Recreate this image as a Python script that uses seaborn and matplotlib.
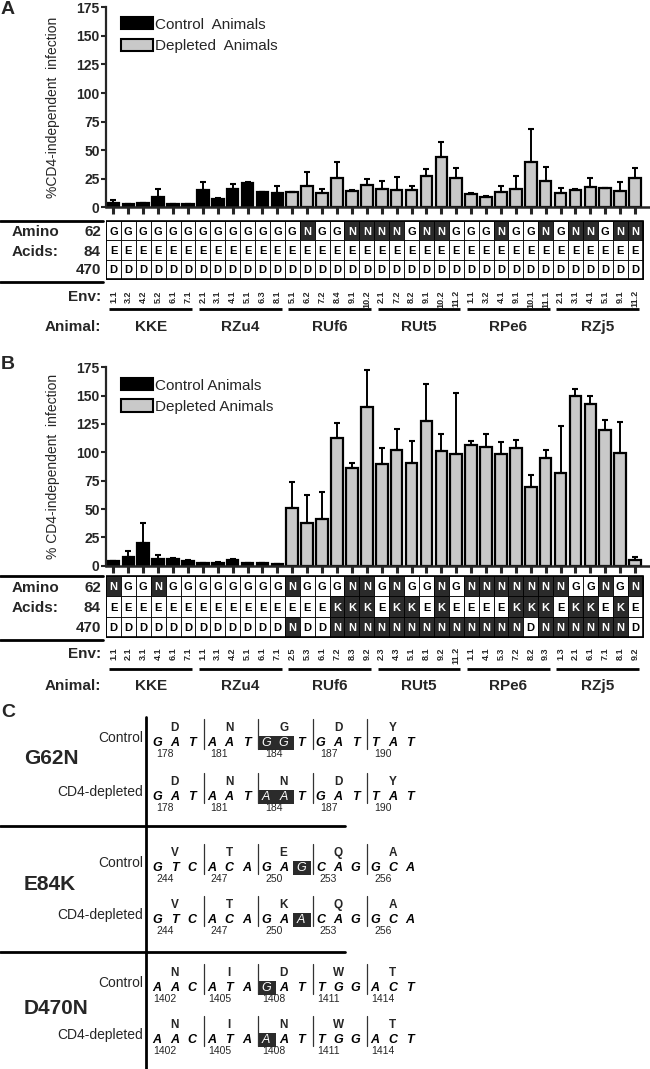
import numpy as np
import pandas as pd
import seaborn as sns
import matplotlib.pyplot as plt
from matplotlib.patches import Patch, Rectangle
from matplotlib.lines import Line2D

W, H = 650, 1069

animals = ['KKE', 'RZu4', 'RUf6', 'RUt5', 'RPe6', 'RZj5']
groups = ['Control'] * 12 + ['Depleted'] * 24
wild_type = ['G', 'E', 'D']

# ---- panel A data ----
env_a = ['1.1', '3.2', '4.2', '5.2', '6.1', '7.1',
         '2.1', '3.1', '4.1', '5.1', '6.3', '8.1',
         '5.1', '6.2', '7.2', '8.4', '9.1', '10.2',
         '2.1', '7.2', '8.2', '9.1', '10.2', '11.2',
         '1.1', '3.2', '4.1', '9.1', '10.1', '11.1',
         '2.1', '3.1', '4.1', '5.1', '9.1', '11.2']
mean_a = [3.5, 3, 3.5, 9.4, 3, 3, 15.3, 7.6, 15.9, 20.9, 13.5, 12.4,
          13.2, 19, 12.4, 25.6, 14.1, 19.1, 16.2, 14.7, 15.3, 27, 44.4, 25.9,
          11.5, 9.4, 13.8, 16.2, 39.4, 23.2, 12.9, 15.3, 17.6, 16.8, 14.1, 25.9]
top_a = [6.5, 3.3, 4, 16, 3.3, 3.3, 21.8, 7.9, 20.3, 21.8, 13.8, 18.2,
         13.5, 30.6, 15.6, 40, 15, 25, 23.2, 26.2, 18.5, 33.8, 57, 34.7,
         12.3, 9.7, 19, 27.4, 68.8, 35.3, 17, 15.9, 25.6, 17.1, 21.8, 34.4]
aa62_a = list('GGGGGG' 'GGGGGG' 'GNGGNN' 'NNGNNG' 'GGNGGN' 'GNNGNN')
aa84_a = list('E' * 36)
aa470_a = list('D' * 36)

# ---- panel B data ----
env_b = ['1.1', '2.1', '3.1', '4.1', '6.1', '7.1',
         '1.1', '3.1', '4.2', '5.1', '6.1', '7.1',
         '2.5', '5.3', '6.1', '7.2', '8.3', '9.2',
         '2.3', '4.3', '5.1', '8.1', '9.2', '11.2',
         '1.1', '4.1', '5.3', '7.2', '8.2', '9.3',
         '1.3', '2.1', '6.1', '7.1', '8.1', '9.2']
mean_b = [4.1, 7.9, 19.6, 6.2, 5.6, 4.4, 2, 2.6, 4.7, 2.3, 2.3, 1.5,
          51.3, 37.8, 41.6, 112.9, 85.9, 139.6, 90, 101.8, 90.6, 127.3, 100.9, 98.2,
          106.2, 104.4, 98.5, 104.1, 69.2, 95, 81.8, 149.6, 142.8, 119.4, 99.4, 5]
top_b = [4.4, 13.2, 37.5, 9.7, 6.5, 4.7, 2.3, 2.9, 5.6, 2.6, 2.6, 1.8,
         73.6, 62.8, 64.8, 126, 90.3, 172.4, 103.5, 120.8, 110.3, 160.1, 116.1, 152.2,
         110.3, 115.8, 108.8, 110.9, 79.8, 102.3, 123.5, 156, 149.3, 128.4, 126.7, 7.3]
aa62_b = list('NGGNGG' 'GGGGGG' 'NGGGNN' 'GNGGNG' 'NNNNNN' 'NGGNGN')
aa84_b = list('EEEEEE' 'EEEEEE' 'EEEKKK' 'EKKEKE' 'EEEKKK' 'EKKEKE')
aa470_b = list('DDDDDD' 'DDDDDD' 'NDDNNN' 'NNNNNN' 'NNNNDN' 'NNNNND')

# ---- panel C data ----
mutations = ['G62N', 'E84K', 'D470N']
ctrl_codons = [['GAT', 'AAT', 'GGT', 'GAT', 'TAT'],
               ['GTC', 'ACA', 'GAG', 'CAG', 'GCA'],
               ['AAC', 'ATA', 'GAT', 'TGG', 'ACT']]
dep_codons = [['GAT', 'AAT', 'AAT', 'GAT', 'TAT'],
              ['GTC', 'ACA', 'GAA', 'CAG', 'GCA'],
              ['AAC', 'ATA', 'AAT', 'TGG', 'ACT']]
ctrl_aa = [['D', 'N', 'G', 'D', 'Y'], ['V', 'T', 'E', 'Q', 'A'], ['N', 'I', 'D', 'W', 'T']]
dep_aa = [['D', 'N', 'N', 'D', 'Y'], ['V', 'T', 'K', 'Q', 'A'], ['N', 'I', 'N', 'W', 'T']]
positions = [[178, 181, 184, 187, 190], [244, 247, 250, 253, 256],
             [1402, 1405, 1408, 1411, 1414]]
changed = [[0, 1], [2], [0]]  # changed nucleotide(s) inside the third codon

DARK = '#2b2b2b'
GRAY = '#c9c9c9'

sns.set_style('ticks')
plt.rcParams['font.family'] = ['Liberation Sans', 'DejaVu Sans']

fig = plt.figure(figsize=(W / 100, H / 100), dpi=100)


def rect(l, t, r, b):
    return [l / W, 1 - b / H, (r - l) / W, (b - t) / H]


def ftext(x, y, s, **kw):
    fig.text(x / W, 1 - y / H, s, **kw)


def fline(x0, x1, y, lw=2):
    fig.add_artist(Line2D([x0 / W, x1 / W], [1 - y / H, 1 - y / H], color='black', lw=lw))


def bar_panel(ax, means, tops, ylabel, labels, leg_y):
    df = pd.DataFrame({'pos': np.arange(36), 'val': means, 'group': groups})
    sns.barplot(data=df, x='pos', y='val', hue='group',
                palette={'Control': 'black', 'Depleted': GRAY}, dodge=False,
                width=0.78, edgecolor='black', linewidth=1.6, errorbar=None,
                legend=False, ax=ax)
    err = np.array(tops) - np.array(means)
    ax.errorbar(np.arange(36), means, yerr=[np.zeros(36), err], fmt='none',
                ecolor='black', elinewidth=1.4, capsize=2.4, capthick=1.5)
    ax.set_xlim(-0.5, 36.0)
    ax.set_ylim(0, 175)
    ax.set_yticks(range(0, 176, 25))
    ax.set_xticks(range(36))
    ax.set_xticklabels([])
    ax.set_xlabel('')
    ax.set_ylabel(ylabel, fontsize=10)
    ax.yaxis.set_label_coords(-0.085, 0.5)
    sns.despine(ax=ax)
    ax.spines['left'].set_linewidth(1.6)
    ax.spines['bottom'].set_linewidth(1.8)
    ax.tick_params(axis='x', length=5, width=2.2, direction='out')
    ax.tick_params(axis='y', length=3.5, width=1.5, labelsize=10, pad=1)
    plt.setp(ax.get_yticklabels(), fontweight='bold')
    handles = [Patch(facecolor='black', edgecolor='black', linewidth=1.5),
               Patch(facecolor=GRAY, edgecolor='black', linewidth=1.5)]
    ax.legend(handles, labels, loc='upper left', bbox_to_anchor=(0.0276, leg_y),
              frameon=False, fontsize=11, handlelength=2.1, handleheight=0.85,
              handletextpad=0.15, labelspacing=0.45, borderpad=0, borderaxespad=0)


def table_panel(low, rows, env, tbl_top, row_h, env_top, line_y, name_y, bottom):
    low.set_xlim(-0.5, 36.0)
    low.set_ylim(bottom, tbl_top - 2)
    low.axis('off')
    for r, row in enumerate(rows):
        for i, ch in enumerate(row):
            mut = ch != wild_type[r]
            low.add_patch(Rectangle((i - 0.5, tbl_top + r * row_h), 1, row_h,
                                    facecolor=DARK if mut else 'white',
                                    edgecolor='black', linewidth=0.6))
            low.text(i, tbl_top + (r + 0.55) * row_h, ch, ha='center', va='center',
                     fontsize=8, fontweight='bold', color='white' if mut else 'black')
    low.add_patch(Rectangle((-0.5, tbl_top), 36, 3 * row_h, fill=False,
                            edgecolor='black', linewidth=1.2))
    for i, e in enumerate(env):
        low.text(i, env_top, e, rotation=90, ha='center', va='top',
                 fontsize=6.5, fontweight='bold')
    for g, name in enumerate(animals):
        low.plot([g * 6 - 0.28, g * 6 + 5.28], [line_y, line_y], color='black',
                 lw=2, solid_capstyle='butt')
        low.text(g * 6 + 2.5, name_y, name, ha='center', va='center',
                 fontsize=11, fontweight='bold')
    # row labels on the left
    ys = [tbl_top + (r + 0.5) * row_h for r in range(3)]
    ftext(12, ys[0], 'Amino', ha='left', va='center', fontsize=11, fontweight='bold')
    ftext(12, ys[1], 'Acids:', ha='left', va='center', fontsize=11, fontweight='bold')
    for y, s in zip(ys, ['62', '84', '470']):
        ftext(101, y, s, ha='right', va='center', fontsize=11, fontweight='bold')
    ftext(101, env_top + 6, 'Env:', ha='right', va='center', fontsize=11, fontweight='bold')
    ftext(101, name_y, 'Animal:', ha='right', va='center', fontsize=11, fontweight='bold')
    fline(0, 103, tbl_top - 2)
    fline(0, 103, tbl_top + 3 * row_h + 2)


# ---- panel A ----
ax_a = fig.add_axes(rect(106, 7.3, 650, 207.3))
bar_panel(ax_a, mean_a, top_a, '%CD4-independent  infection',
          ['Control  Animals', 'Depleted  Animals'], 0.95)
low_a = fig.add_axes(rect(106, 219, 650, 340))
table_panel(low_a, [aa62_a, aa84_a, aa470_a], env_a, 223, 19, 291, 310, 327, 340)
ftext(1, 1, 'A', ha='left', va='top', fontsize=14, fontweight='bold')

# ---- panel B ----
ax_b = fig.add_axes(rect(106, 367.3, 650, 565.7))
bar_panel(ax_b, mean_b, top_b, '% CD4-independent  infection',
          ['Control Animals', 'Depleted Animals'], 0.945)
low_b = fig.add_axes(rect(106, 574, 650, 700))
table_panel(low_b, [aa62_b, aa84_b, aa470_b], env_b, 578, 20, 648, 669, 686, 700)
ftext(1, 356, 'B', ha='left', va='top', fontsize=14, fontweight='bold')

# ---- panel C ----
ax_c = fig.add_axes(rect(0, 700, 650, 1069))
ax_c.set_xlim(0, 650)
ax_c.set_ylim(1069, 700)
ax_c.axis('off')
ftext(1, 704, 'C', ha='left', va='top', fontsize=14, fontweight='bold')
ax_c.plot([145.5, 145.5], [717, 1069], color='black', lw=2)
for y in [826, 952]:
    ax_c.plot([0, 345], [y, y], color='black', lw=2)

block_y = [(743, 797, 758), (868, 920, 885), (988, 1040, 1008)]
codon_x = [157 + 54.5 * k for k in range(5)]
for m, (yc, yd, ym) in enumerate(block_y):
    ax_c.text(24, ym, mutations[m], ha='left', va='center', fontsize=15, fontweight='bold')
    for y, lab, codons, aas in [(yc, 'Control', ctrl_codons[m], ctrl_aa[m]),
                                (yd, 'CD4-depleted', dep_codons[m], dep_aa[m])]:
        ax_c.text(143, y - 5, lab, ha='right', va='center', fontsize=10)
        for k, (cod, aa) in enumerate(zip(codons, aas)):
            x0 = codon_x[k]
            if k > 0:
                ax_c.plot([x0 - 8, x0 - 8], [y - 24, y + 6], color='#333333', lw=0.9)
            ax_c.text(x0 + 17.6, y - 15, aa, ha='center', va='center', fontsize=8.5,
                      fontweight='bold')
            ax_c.text(x0 + 8, y + 11, str(positions[m][k]), ha='center', va='center',
                      fontsize=7.5)
            for j, nt in enumerate(cod):
                hl = k == 2 and j in changed[m]
                xl = x0 + 17.6 * j
                if hl:
                    ax_c.add_patch(Rectangle((xl - 8.5, y - 7), 18.5, 14, facecolor=DARK,
                                             edgecolor=DARK, lw=0))
                ax_c.text(xl, y, nt, ha='center', va='center', fontsize=9,
                          style='italic', fontweight='normal' if hl else 'bold',
                          color='white' if hl else 'black')

fig.savefig('out.png', dpi=100)
